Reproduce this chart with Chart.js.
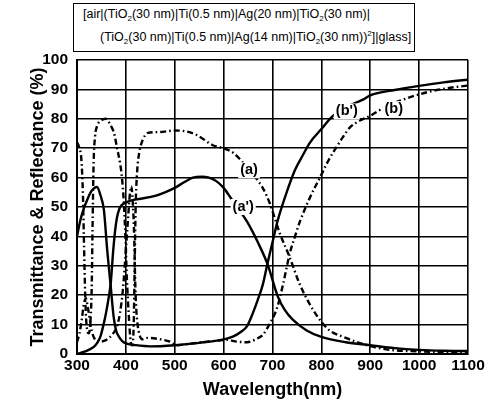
<!DOCTYPE html>
<html>
<head>
<meta charset="utf-8">
<script src="https://cdn.jsdelivr.net/npm/chart.js@4.4.1/dist/chart.umd.min.js"></script>
<style>
  body { margin: 0; background: #fff; }
  #wrap { position: relative; width: 490px; height: 404px; }
  #structure {
    position: absolute; left: 73px; top: 3px; width: 342px; height: 49px;
    border: 1px solid #000; box-sizing: border-box; background: #fff;
    font-family: Arial, "Liberation Sans", sans-serif; font-size: 12.5px; color: #000;
  }
  #structure div { position: absolute; white-space: nowrap; }
  #structure .l1 { left: 9px; top: 3px; }
  #structure .l2 { left: 26px; top: 26px; }
  #structure sub { font-size: 8px; vertical-align: -3px; line-height: 0; }
  #structure sup { font-size: 8px; vertical-align: 5px; line-height: 0; }
</style>
</head>
<body>
<div id="wrap">
  <canvas id="chart" width="490" height="404"></canvas>
  <div id="structure">
    <div class="l1">[air|(TiO<sub>2</sub>(30 nm)|Ti(0.5 nm)|Ag(20 nm)|TiO<sub>2</sub>(30 nm)|</div>
    <div class="l2">(TiO<sub>2</sub>(30 nm)|Ti(0.5 nm)|Ag(14 nm)|TiO<sub>2</sub>(30 nm))<sup>2</sup>]|glass]</div>
  </div>
</div>
<script>
// wavelength (nm) / percent values
const aWave = [300, 305, 309, 312, 314, 316, 318, 321, 324, 327, 330, 332, 334, 337, 341, 350, 359, 368, 376, 382, 388, 392, 396, 399.5, 402, 406, 410, 413, 416, 418, 420, 423, 428, 435, 445, 470, 500, 520, 545, 578, 600, 620, 650, 680, 695, 705, 715, 735, 755, 776, 797, 817, 850, 879, 910, 940, 1000, 1050, 1100];
const aValues = [72, 70, 66, 55, 40, 25, 14, 8, 7, 10, 22, 45, 65, 74, 77.5, 79.5, 80, 78, 75, 70, 65, 60, 51, 38, 26, 13, 4, 3, 10, 30, 50, 62, 69, 73, 75.2, 75.5, 76, 75.8, 74.5, 71, 70, 68.4, 63, 56.5, 51, 46, 41, 33, 24, 17, 11.6, 8, 5.5, 3.7, 2.3, 1.4, 0.9, 0.6, 0.5];

const aPrimeWave = [300, 314, 325, 335, 341, 348, 355, 360, 365, 369, 374, 378, 382, 387, 392, 400, 410, 430, 460, 480, 500, 520, 537, 555, 570, 585, 600, 615, 630, 648, 670, 690, 711, 725, 742, 770, 800, 850, 900, 950, 1000, 1050, 1100];
const aPrimeValues = [0, 0.7, 1.5, 2.5, 3.7, 6, 10.5, 14.5, 19.4, 24, 35, 42, 46.6, 49.5, 50.7, 51.5, 52.2, 52.8, 53.8, 55, 56.5, 58.5, 60, 60.3, 60, 58.8, 56.5, 53, 49.5, 45, 38, 30.5, 19.5, 15, 11.6, 8, 5.8, 4, 3, 2, 1.4, 1.1, 1];

const bWave = [300, 305, 310, 314, 318, 322, 326, 330, 335, 345, 360, 374, 382, 388, 394, 399, 404, 408, 411, 414, 417, 419, 421, 424, 428, 433, 445, 470, 490, 504, 530, 558, 590, 607, 627, 648, 668, 680, 695, 709, 722, 735, 746, 756, 776, 797, 815, 831, 845, 858, 880, 900, 930, 975, 1000, 1036, 1070, 1100];
const bValues = [4, 7, 12, 17, 19, 16, 12, 8, 5.5, 4.2, 4.8, 7, 9.5, 14, 22, 33, 45, 54, 57, 52, 40, 25, 16, 10, 6.5, 5, 5.5, 5, 4.2, 3, 3.5, 4, 4.6, 4.8, 4.2, 4, 5.2, 6.5, 10.5, 15.5, 24, 34, 40, 45, 53, 60, 66, 70.4, 74, 77, 79.5, 81, 84, 87, 88.3, 89.8, 90.7, 91.3];

const bPrimeWave = [300, 307, 314, 321, 330, 341, 348, 355, 362, 369, 375, 380, 386, 393, 402, 420, 450, 500, 550, 600, 620, 635, 648, 660, 670, 680, 690, 700, 711, 730, 746, 760, 777, 800, 821, 850, 885, 900, 950, 1000, 1050, 1100];
const bPrimeValues = [40, 45.6, 49.5, 52.5, 55.5, 56.8, 54, 49, 35, 23, 12.6, 8, 5.8, 4.3, 3.5, 3, 2.6, 3, 3.8, 5, 6, 7.5, 9.5, 14, 18.5, 23.5, 31, 38, 45.6, 55.5, 62.6, 67, 72, 76.5, 80.6, 84, 86.5, 88, 89.8, 91.2, 92.4, 93.3];

const xTicks = [300, 400, 500, 600, 700, 800, 900, 1000, 1100];
const yTicks = [0, 10, 20, 30, 40, 50, 60, 70, 80, 90, 100];

const FONT = "Arial, 'Liberation Sans', sans-serif";

function toPoints(xs, ys) {
  return xs.map((x, i) => ({ x: x, y: ys[i] }));
}

function curve(label, xs, ys, dashed) {
  return {
    label: label,
    data: toPoints(xs, ys),
    borderColor: "#000",
    borderWidth: 2.4,
    borderDash: dashed ? [6, 3, 1.6, 3] : [],
    pointRadius: 0,
    fill: false,
    cubicInterpolationMode: "monotone",
  };
}

// curve names written on the plot
const curveLabels = {
  id: "curveLabels",
  afterDatasetsDraw(chart) {
    const ctx = chart.ctx;
    const xs = chart.scales.x;
    const ys = chart.scales.y;
    const items = [
      ["(a)", 652, 62.5],
      ["(a')", 640, 50],
      ["(b')", 852, 82.5],
      ["(b)", 948, 83.3],
    ];
    ctx.save();
    ctx.font = "bold 14.5px " + FONT;
    ctx.textAlign = "center";
    ctx.textBaseline = "middle";
    items.forEach(([t, x, y]) => {
      const px = xs.getPixelForValue(x);
      const py = ys.getPixelForValue(y);
      const w = ctx.measureText(t).width;
      ctx.fillStyle = "#fff";
      ctx.fillRect(px - w / 2 - 2, py - 8, w + 4, 16);
      ctx.fillStyle = "#000";
      ctx.fillText(t, px, py);
    });
    ctx.restore();
  },
};

new Chart(document.getElementById("chart").getContext("2d"), {
  type: "line",
  data: {
    datasets: [
      curve("(a)", aWave, aValues, true),
      curve("(a')", aPrimeWave, aPrimeValues, false),
      curve("(b)", bWave, bValues, true),
      curve("(b')", bPrimeWave, bPrimeValues, false),
    ],
  },
  options: {
    responsive: false,
    animation: false,
    events: [],
    layout: { padding: { left: 0, right: 22, top: 60, bottom: 0 } },
    plugins: { legend: { display: false }, tooltip: { enabled: false } },
    scales: {
      x: {
        type: "linear",
        min: 300,
        max: 1100,
        afterBuildTicks: (s) => { s.ticks = xTicks.map((v) => ({ value: v })); },
        afterFit: (s) => { s.height = 50; },
        ticks: {
          color: "#000",
          padding: 2,
          font: { family: FONT, size: 15.5, weight: "bold" },
          callback: (v) => String(v),
        },
        grid: { color: "#000", lineWidth: 1.6, drawTicks: false },
        border: { color: "#000", width: 2 },
        title: {
          display: true,
          text: "Wavelength(nm)",
          color: "#000",
          font: { family: FONT, size: 18, weight: "bold" },
          padding: { top: 0, bottom: 3 },
        },
      },
      y: {
        min: 0,
        max: 100,
        afterBuildTicks: (s) => { s.ticks = yTicks.map((v) => ({ value: v })); },
        afterFit: (s) => { s.width = 77; },
        ticks: {
          color: "#000",
          padding: 9,
          font: { family: FONT, size: 15.5, weight: "bold" },
          callback: (v) => String(v),
        },
        grid: { color: "#000", lineWidth: 1.6, drawTicks: false },
        border: { color: "#000", width: 2 },
        title: {
          display: true,
          text: "Transmittance & Reflectance (%)",
          color: "#000",
          font: { family: FONT, size: 18, weight: "bold" },
          padding: { top: 27, bottom: 0 },
        },
      },
    },
  },
  plugins: [curveLabels],
});
</script>
</body>
</html>
